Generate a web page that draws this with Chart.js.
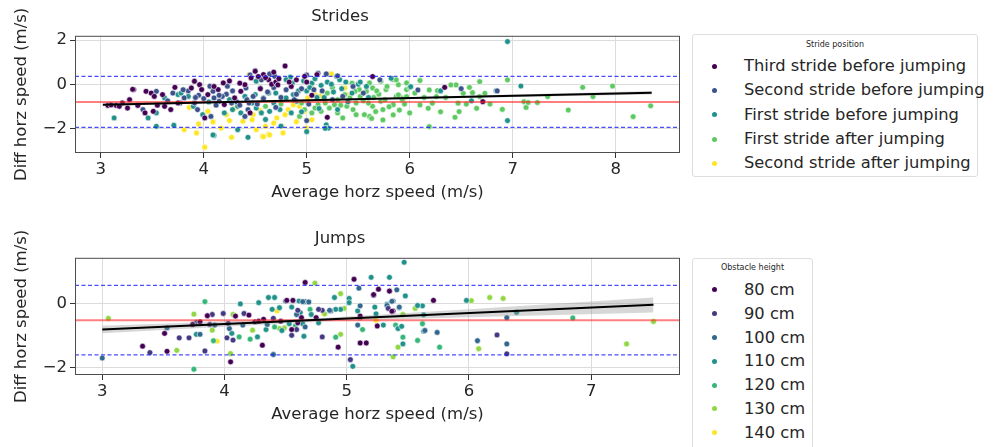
<!DOCTYPE html>
<html lang="en">
<head>
<meta charset="UTF-8">
<style>
  body { margin: 0; background: #fff; font-family: "DejaVu Sans", sans-serif; }
  .plot { position: absolute; left: 0; width: 690px; height: 210px; }
  .legend { position: absolute; left: 692px; background: #fff; border: 1px solid #ddd; border-radius: 3px; box-sizing: border-box; color: #262626; }
  .legend .ttl { font-size: 8px; line-height: 10px; text-align: center; }
  .legend .row { position: relative; font-size: 16.3px; padding-left: 51px; white-space: nowrap; }
  .legend .dot { position: absolute; left: 19px; width: 5px; height: 5px; border-radius: 50%; }
</style>
</head>
<body>
  <div class="plot" style="top:0"><canvas id="strides"></canvas></div>
  <div class="plot" style="top:222px"><canvas id="jumps"></canvas></div>
  <div class="legend" id="legTop" style="top:34px;width:286px;height:143px"></div>
  <div class="legend" id="legBot" style="top:258px;width:121px;height:200px"></div>

<script src="https://cdn.jsdelivr.net/npm/chart.js"></script>
<script>
// ---- Strides: stride position series, [avg horz speed, diff horz speed]
const strideLabels = ['Third stride before jumping', 'Second stride before jumping', 'First stride before jumping', 'First stride after jumping', 'Second stride after jumping'];
const strideColors = ['#440154', '#3b528b', '#21918c', '#5ec962', '#fde725'];

const thirdBefore = [[3.07,-0.96],[3.15,-0.96],[3.21,-0.85],[3.26,-1.08],[3.32,-0.24],[3.36,-0.96],[3.44,-0.32],[3.49,-0.4],[3.52,-0.55],[3.43,-1.3],[3.51,-1.23],[3.68,-1.15],[3.72,-0.14],[3.91,0.14],[3.88,-0.17],[3.96,-0.02],[4.01,-1.53],[4.19,0.06],[4.46,0.29],[4.79,0.83],[4.5,0.59],[4.63,0.21],[4.66,0.0],[4.7,0.1],[4.72,-0.03],[4.98,0.36],[5.1,0.44],[6.34,-0.14],[6.71,-0.79],[5.64,0.35],[3.6,-0.47],[4.04,-0.47],[4.2,-0.92],[4.3,-0.62],[3.31,-0.23],[4.14,-0.24],[3.98,-0.24],[4.58,0.44],[4.4,-0.02],[4.36,-0.32],[3.28,-0.7],[3.18,-1.0],[3.1,-0.94],[3.55,-0.95],[3.62,-1.0],[3.75,-0.85],[4.1,-0.1],[4.25,0.15],[4.35,0.05],[4.55,-0.2],[4.6,0.3],[4.85,-0.1],[4.9,0.2],[5.05,-0.5],[5.2,-1.5],[4.45,-1.3],[4.83,0.1],[4.73,0.25],[4.68,0.55],[4.53,0.35],[5.0,0.1]];
const secondBefore = [[3.41,-1.15],[3.54,-0.32],[3.7,-0.4],[3.81,-0.62],[3.77,-0.85],[3.91,-0.85],[3.94,-1.15],[4.06,-0.09],[4.09,-0.32],[4.1,-0.62],[4.15,-0.77],[4.23,-0.09],[4.27,-0.85],[4.41,-0.17],[4.4,-1.46],[4.43,-1.15],[4.64,0.47],[4.69,0.36],[4.56,0.2],[5.11,0.5],[5.19,0.47],[5.71,0.2],[6.08,-0.26],[5.0,0.42],[4.45,0.42],[4.5,0.62],[5.3,0.38],[4.07,-1.46],[3.85,-0.3],[4.0,-0.65],[4.12,-0.95],[4.22,-0.45],[4.32,-0.8],[4.48,-0.55],[4.52,-0.9],[4.62,-0.35],[4.75,-0.6],[4.8,-0.25],[4.88,-0.7],[4.95,-0.2],[5.02,-0.9],[5.15,-0.3],[5.25,-0.7],[5.45,-0.1],[5.55,-0.4],[5.0,-1.65],[4.7,-1.05],[5.35,-0.55],[6.5,-0.2],[6.85,-0.3],[3.65,-0.75],[3.95,-0.5],[4.18,-0.55],[4.28,-0.3],[4.42,-0.7],[4.58,-0.65],[4.68,-0.15],[4.9,-0.45],[5.07,-0.25],[4.44,-0.85],[4.35,-0.95],[4.15,-0.5],[3.92,-0.6],[3.8,-0.25]];
const firstBefore = [[3.13,-1.53],[3.46,-1.53],[3.54,-1.91],[3.62,-0.62],[3.54,-1.3],[3.71,-1.86],[3.75,-0.47],[3.78,-0.4],[3.99,-1.38],[4.1,-2.32],[4.33,-2.06],[4.43,-2.41],[4.33,-1.0],[4.28,-1.15],[4.36,-1.3],[4.51,0.14],[4.55,-0.17],[4.5,-0.47],[4.58,-0.62],[4.63,-0.4],[4.68,-0.85],[4.74,-1.15],[4.64,-1.23],[4.56,-1.3],[4.51,-1.08],[4.47,-0.85],[4.8,-0.62],[4.87,-0.47],[4.9,-0.77],[4.84,0.32],[4.8,0.21],[5.29,0.36],[5.32,0.21],[5.19,-1.84],[5.21,-1.99],[5.0,-2.15],[5.18,-2.0],[4.09,-2.3],[6.95,1.94],[6.95,-1.65],[7.08,-0.08],[6.84,-0.29],[6.01,-0.11],[5.82,0.27],[5.0,-0.3],[5.1,-0.6],[5.2,0.1],[5.4,-0.8],[5.5,0.0],[5.6,-0.6],[4.6,-1.6],[4.75,-1.9],[3.9,-1.0],[4.2,-1.3],[4.95,-1.25],[5.3,-1.15],[6.3,-0.3],[6.6,-0.75],[4.4,-0.55],[4.7,-0.4],[4.85,-1.3],[5.05,0.05],[5.12,-1.1],[4.25,-0.7],[3.85,-0.55],[4.05,-0.8],[4.86,0.05],[4.92,-0.3],[4.97,0.15],[5.03,-0.15],[5.08,0.25],[5.14,-0.05],[5.17,-0.6],[5.24,0.0],[5.26,-0.35],[5.34,-0.2],[5.38,0.1],[5.44,-0.4],[5.52,0.1],[5.58,-0.1]];
const firstAfter = [[5.61,0.06],[5.64,-0.17],[5.72,0.14],[5.77,-0.24],[5.84,0.21],[5.89,-0.02],[5.97,0.06],[5.97,-0.24],[5.87,-0.55],[5.92,-0.62],[5.84,-0.93],[5.74,-1.15],[5.72,-0.77],[5.64,-1.0],[5.61,-1.46],[5.56,-1.38],[5.48,-0.85],[5.48,-1.38],[5.42,-0.62],[5.37,-0.47],[5.39,-1.0],[5.35,-1.53],[5.3,-1.3],[5.27,-0.93],[5.22,-1.08],[5.18,-0.85],[5.14,-1.23],[5.11,-0.93],[5.08,-1.08],[5.05,-1.3],[5.01,-0.85],[4.98,-1.15],[4.95,-0.85],[4.93,-1.46],[5.58,-0.32],[5.51,-0.24],[5.47,-0.32],[6.95,0.2],[7.11,-0.79],[7.13,-1.05],[7.15,-0.83],[7.24,-0.83],[7.34,-0.56],[7.54,-1.17],[7.68,-0.14],[7.78,-0.56],[7.97,-0.08],[8.17,-1.47],[8.34,-0.98],[6.9,-1.14],[6.73,-0.41],[6.68,-0.56],[6.65,-1.09],[6.58,-0.14],[6.68,0.12],[6.61,-0.38],[6.52,-0.41],[6.48,-1.24],[6.44,-1.5],[6.47,-0.86],[6.45,-0.03],[6.4,-0.03],[6.27,-0.29],[6.26,-0.56],[6.22,-0.86],[6.19,-0.26],[6.18,-1.09],[6.19,-1.92],[6.1,0.17],[6.1,-0.94],[5.97,-0.56],[5.93,-0.71],[5.9,-1.17],[5.89,-0.48],[5.87,0.2],[5.74,-1.62],[5.8,-1.02],[5.84,-1.39],[5.67,-1.24],[5.63,-1.55],[6.78,-0.9],[6.35,-0.6],[6.05,-0.4],[5.7,-0.45],[5.55,-0.75],[5.45,-1.15],[5.3,-0.7],[5.2,-0.4],[4.75,-0.9],[4.6,-1.0],[6.0,-1.3],[6.55,-0.9],[5.95,-0.9],[5.78,-0.1],[5.65,-0.6],[5.25,-0.15],[5.33,-0.95],[5.44,0.05],[5.52,-0.55],[5.6,-0.85],[5.68,-0.3],[5.76,-0.7],[6.0,-0.15],[6.14,-0.6],[6.3,-1.25]];
const secondAfter = [[3.81,-2.06],[3.86,-1.05],[3.93,-2.21],[4.01,-2.86],[4.04,-1.23],[4.09,-1.71],[4.17,-1.99],[4.22,-1.38],[4.25,-1.65],[4.27,-2.41],[4.38,-1.68],[4.44,0.44],[4.48,-1.38],[4.47,-1.61],[4.51,-2.06],[4.57,-2.36],[4.63,-2.26],[4.6,-1.91],[4.68,-1.76],[4.71,-1.53],[4.76,-1.91],[4.77,-2.21],[4.79,-1.38],[4.82,-1.15],[4.87,-0.93],[4.93,-1.0],[4.98,-1.23],[5.01,-0.62],[5.0,-1.99],[5.05,-0.17],[5.08,-0.47],[5.13,-0.55],[5.37,-0.17],[5.39,-0.47],[5.24,0.47],[4.58,-2.38],[4.64,-2.3],[5.05,-1.61],[4.3,-1.1],[4.55,-1.2],[4.9,-1.7],[3.95,-1.8]];

// ---- Jumps: obstacle height series
const heightLabels = ['80 cm', '90 cm', '100 cm', '110 cm', '120 cm', '130 cm', '140 cm'];
const heightColors = ['#440154', '#443983', '#31688e', '#21918c', '#35b779', '#90d743', '#fde725'];

const h80 = [[3.33,-1.32],[3.51,-0.92],[3.53,-1.48],[3.74,-0.64],[3.8,-0.56],[3.86,-0.37],[4.09,-0.38],[4.05,-1.81],[4.2,-0.35],[4.31,-1.29],[4.25,-0.56],[4.28,-0.54],[4.66,0.67],[5.06,0.77],[5.26,0.46],[5.38,-0.22],[5.11,-0.38],[5.25,-0.69],[5.11,-1.22],[5.16,-1.22],[4.93,-1.35],[4.75,-0.43],[4.56,0.11],[4.51,0.11],[4.63,-0.43],[4.6,-0.59],[4.55,-0.8],[4.46,-0.54],[4.32,-0.48],[5.37,-0.23],[5.71,0.11],[5.22,0.29],[5.35,0.4]];
const h90 = [[3.39,-1.52],[3.63,-1.06],[3.71,-1.06],[3.9,-0.33],[3.88,-0.64],[3.84,-1.47],[3.99,-0.3],[4.03,-0.61],[4.02,-1.06],[4.07,-1.13],[4.16,-0.3],[5.35,0.41],[5.22,0.27],[5.34,-0.14],[5.03,-1.74],[4.8,-1.03],[4.8,-0.2],[4.77,-0.17],[4.6,-0.2],[4.59,-0.8],[4.55,-0.98],[6.23,-0.97],[6.31,-1.56],[4.4,-0.45]];
const h100 = [[3.0,-1.69],[3.53,-0.75],[3.77,-0.58],[3.8,-0.95],[3.92,-0.66],[4.04,-0.77],[4.15,-0.66],[5.1,0.49],[5.41,0.44],[4.87,-0.22],[5.11,-0.06],[5.38,0.09],[5.11,-0.43],[5.09,-0.66],[4.86,-0.2],[4.66,0.07],[4.64,0.07],[4.69,0.06],[4.5,0.09],[4.59,-0.33],[4.66,-0.72],[4.35,-0.64],[4.4,-1.58],[5.33,-0.05],[5.37,0.08],[5.43,-0.1],[5.64,-0.83],[5.74,-0.89],[6.31,-0.43],[6.07,-1.15],[6.31,-1.25]];
const h110 = [[3.77,-0.95],[4.06,-0.92],[4.13,0.0],[4.27,-1.03],[4.28,0.04],[5.47,1.3],[5.2,0.83],[5.35,0.83],[5.48,0.25],[4.9,0.2],[5.02,0.17],[5.02,0.04],[4.95,-0.17],[4.91,-0.17],[5.09,-0.22],[5.23,-0.1],[5.33,-0.01],[5.43,-0.12],[5.62,-0.06],[5.3,-0.66],[5.42,-0.77],[5.63,-0.85],[5.46,-1.25],[5.05,-1.95],[4.77,-0.59],[4.71,-0.33],[4.61,0.09],[4.55,-0.1],[4.62,-0.27],[4.64,-0.62],[4.65,-1.01],[4.53,-0.62],[4.47,-0.83],[4.34,-0.8],[4.45,-0.12],[4.39,-0.17],[4.36,0.2],[4.41,0.2],[5.24,-0.31],[5.45,-0.7],[5.63,-0.34],[5.98,0.11],[6.39,-0.26],[5.58,-0.05]];
const h120 = [[3.75,-2.04],[3.84,0.07],[3.91,-1.15],[4.12,-1.03],[4.21,-1.1],[4.7,-0.17],[5.13,-0.8],[5.4,-0.66],[5.62,-0.62],[5.46,-1.04],[5.58,-1.14],[4.91,-1.04],[4.58,-0.69],[4.41,-0.72],[5.76,-1.35],[6.85,-0.44]];
const h130 = [[3.05,-0.45],[3.61,-1.45],[3.75,-0.32],[3.9,-0.82],[4.07,-0.33],[4.05,-1.55],[4.23,-0.82],[4.74,0.65],[4.95,0.32],[4.98,-0.14],[5.56,-0.14],[5.46,-0.33],[5.42,-1.35],[5.38,-1.65],[4.95,-0.95],[4.82,-0.31],[4.49,-0.75],[4.45,-0.77],[6.02,0.1],[6.17,0.2],[6.28,0.17],[6.08,-1.4],[7.29,-1.25],[7.51,-0.55]];
const h140 = [[3.94,-1.16],[5.24,-0.51],[4.81,-0.31],[4.43,-0.22]];

// ---- reference lines (mean, limits of agreement) and regression with CI band
const strideMean = -0.80, strideUpper = 0.36, strideLower = -1.96;
const jumpMean = -0.51, jumpUpper = 0.58, jumpLower = -1.59;
const strideFit = [[3.02,-0.93],[8.35,-0.39]];
const strideBandX = [3.02, 5.0, 8.35];
const strideBandHi = [-0.87, -0.70, -0.31];
const strideBandLo = [-0.99, -0.76, -0.47];
const jumpFit = [[3.0,-0.80],[7.51,-0.03]];
const jumpBandX = [3.0, 4.8, 6.0, 7.51];
const jumpBandHi = [-0.68, -0.44, -0.17, 0.20];
const jumpBandLo = [-0.92, -0.55, -0.42, -0.27];

// ---- axes
const strideXTicks = [3, 4, 5, 6, 7, 8];
const strideYTicks = [-2, 0, 2];
const jumpXTicks = [3, 4, 5, 6, 7];
const jumpYTicks = [-2, 0];

const FONT = "'DejaVu Sans', sans-serif";
const FS = 16.5;
const TXT = '#262626';

const pts = arr => arr.map(p => ({ x: p[0], y: p[1] }));
const fmt = v => v < 0 ? '\u2212' + Math.abs(v) : String(v);

const frame = {
  id: 'frame',
  afterDatasetsDraw(chart) {
    const a = chart.chartArea, ctx = chart.ctx;
    ctx.save();
    ctx.strokeStyle = '#4d4d4d';
    ctx.lineWidth = 1;
    ctx.strokeRect(a.left + 0.5, a.top + 0.5, a.right - a.left - 1, a.bottom - a.top - 1);
    ctx.restore();
  }
};

function scatterSets(series, colors) {
  return series.map((s, i) => ({
    type: 'scatter', data: pts(s), order: 5,
    backgroundColor: colors[i], borderColor: '#fff', borderWidth: 0.6,
    pointRadius: 2.9, pointHoverRadius: 2.9
  }));
}

function lineSet(data, color, width, dash) {
  return { type: 'line', data: pts(data), order: 1, borderColor: color, borderWidth: width,
           borderDash: dash || [], pointRadius: 0, fill: false, tension: 0 };
}

function makeChart(id, title, sets, xr, yr, xt, yt) {
  new Chart(document.getElementById(id), {
    type: 'scatter',
    data: { datasets: sets },
    plugins: [frame],
    options: {
      responsive: true, maintainAspectRatio: false, animation: false,
      layout: { padding: { left: 0, right: 10, top: 0, bottom: 0 } },
      plugins: {
        legend: { display: false }, tooltip: { enabled: false },
        title: { display: true, text: title, color: TXT, font: { family: FONT, size: FS, weight: 'normal' }, padding: { top: 7, bottom: 9 } }
      },
      scales: {
        x: {
          type: 'linear', min: xr[0], max: xr[1],
          afterBuildTicks: s => { s.ticks = xt.map(v => ({ value: v })); },
          afterFit: s => { s.height = 57; },
          ticks: { color: TXT, font: { family: FONT, size: FS }, padding: 2, maxRotation: 0, autoSkip: false, callback: fmt },
          grid: { color: '#dcdcdc', tickLength: 5, tickColor: '#333' },
          border: { display: false },
          title: { display: true, text: 'Average horz speed (m/s)', color: TXT, font: { family: FONT, size: FS }, padding: { top: 0, bottom: 7 } }
        },
        y: {
          type: 'linear', min: yr[0], max: yr[1],
          afterBuildTicks: s => { s.ticks = yt.map(v => ({ value: v })); },
          afterFit: s => { s.width = 75; },
          ticks: { color: TXT, font: { family: FONT, size: FS }, padding: 3, autoSkip: false, callback: fmt },
          grid: { color: '#dcdcdc', tickLength: 5, tickColor: '#333' },
          border: { display: false },
          title: { display: true, text: 'Diff horz speed (m/s)', color: TXT, font: { family: FONT, size: FS }, padding: { top: 12, bottom: 0 } }
        }
      }
    }
  });
}

function refSets(xr, mean, up, lo, fit, bx, bhi, blo) {
  return [
    { type: 'line', data: bx.map((x, i) => ({ x: x, y: bhi[i] })), order: 3, borderWidth: 0, pointRadius: 0,
      backgroundColor: 'rgba(140,140,140,0.35)', fill: '+1', tension: 0 },
    { type: 'line', data: bx.map((x, i) => ({ x: x, y: blo[i] })), order: 3, borderWidth: 0, pointRadius: 0, fill: false, tension: 0 },
    lineSet(fit, '#000', 2),
    lineSet([[xr[0], mean], [xr[1], mean]], 'rgba(255,40,40,0.6)', 2),
    lineSet([[xr[0], up], [xr[1], up]], 'rgba(30,30,255,0.8)', 1.3, [4, 2.5]),
    lineSet([[xr[0], lo], [xr[1], lo]], 'rgba(30,30,255,0.8)', 1.3, [4, 2.5])
  ];
}

const strideX = [2.75, 8.625], strideY = [-3.12, 2.2];
const jumpX = [2.777, 7.727], jumpY = [-2.22, 1.44];

makeChart('strides', 'Strides',
  refSets(strideX, strideMean, strideUpper, strideLower, strideFit, strideBandX, strideBandHi, strideBandLo)
    .concat(scatterSets([thirdBefore, secondBefore, firstBefore, firstAfter, secondAfter], strideColors)),
  strideX, strideY, strideXTicks, strideYTicks);

makeChart('jumps', 'Jumps',
  refSets(jumpX, jumpMean, jumpUpper, jumpLower, jumpFit, jumpBandX, jumpBandHi, jumpBandLo)
    .concat(scatterSets([h80, h90, h100, h110, h120, h130, h140], heightColors)),
  jumpX, jumpY, jumpXTicks, jumpYTicks);

// ---- legends
function buildLegend(el, title, labels, colors, titleTop, firstGap, step) {
  let html = '<div class="ttl" style="margin-top:' + titleTop + 'px">' + title + '</div>';
  labels.forEach((l, i) => {
    html += '<div class="row" style="height:' + step + 'px;line-height:' + step + 'px;' + (i === 0 ? 'margin-top:' + firstGap + 'px' : '') + '">' +
      '<span class="dot" style="top:' + (step / 2 - 2.5) + 'px;background:' + colors[i] + '"></span>' + l + '</div>';
  });
  el.innerHTML = html;
}
buildLegend(document.getElementById('legTop'), 'Stride position', strideLabels, strideColors, 5, 4, 24.3);
buildLegend(document.getElementById('legBot'), 'Obstacle height', heightLabels, heightColors, 4, 5, 23.8);
</script>
</body>
</html>
